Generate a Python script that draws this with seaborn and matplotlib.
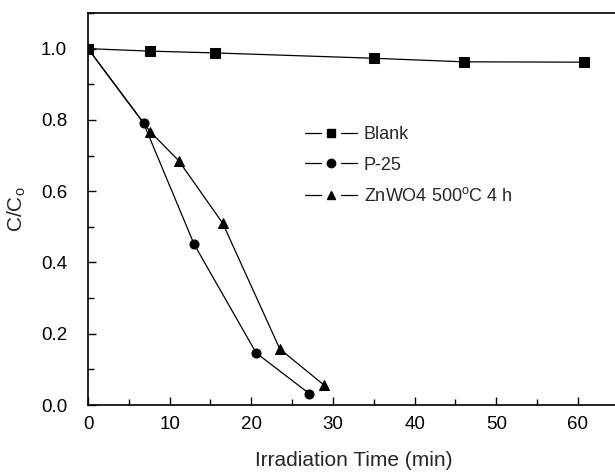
import matplotlib
matplotlib.use("Agg")
import matplotlib.pyplot as plt
import seaborn as sns
import pandas as pd
from matplotlib.ticker import MultipleLocator
from matplotlib.lines import Line2D
from matplotlib.legend_handler import HandlerBase

blank_t = [0, 7.6, 15.5, 35.0, 46.0, 60.7]
blank_c = [1.0, 0.993, 0.988, 0.973, 0.963, 0.962]
p25_t = [0, 6.8, 13.0, 20.6, 27.1]
p25_c = [1.0, 0.791, 0.451, 0.146, 0.032]
zn_t = [0, 7.65, 11.1, 16.5, 23.5, 28.9]
zn_c = [1.0, 0.766, 0.686, 0.51, 0.157, 0.056]
labels = ["Blank", "P-25", "ZnWO4 500$^{\\mathrm{o}}$C 4 h"]
markers = ["s", "o", "^"]

sns.set_style("ticks")
plt.rcParams['font.family'] = ['Liberation Sans', 'DejaVu Sans']
plt.rcParams['mathtext.fontset'] = 'custom'
plt.rcParams['mathtext.rm'] = 'Liberation Sans'

df = pd.concat([
    pd.DataFrame({"t": blank_t, "c": blank_c, "s": labels[0]}),
    pd.DataFrame({"t": p25_t, "c": p25_c, "s": labels[1]}),
    pd.DataFrame({"t": zn_t, "c": zn_c, "s": labels[2]}),
])

fig = plt.figure(figsize=(6.15, 4.75), dpi=100)
ax = fig.add_axes([88/615, 1-405/475, 1.006-88/615, (405-13)/475])
sns.lineplot(data=df, x="t", y="c", hue="s", style="s",
             palette=["black"]*3, markers=dict(zip(labels, markers)),
             dashes=False, markersize=6.5, linewidth=0.9, sort=False,
             markeredgecolor="black", ax=ax, legend=False)


class GapHandler(HandlerBase):
    def create_artists(self, legend, orig_handle, xdescent, ydescent,
                       width, height, fontsize, trans):
        y = height / 2 - ydescent
        g = 0.3 * width
        l1 = Line2D([-xdescent, -xdescent + width/2 - g/1.6], [y, y], color="black", lw=0.9)
        l2 = Line2D([-xdescent + width/2 + g/1.6, -xdescent + width], [y, y], color="black", lw=0.9)
        m = Line2D([-xdescent + width/2], [y], color="black", lw=0,
                   marker=orig_handle.get_marker(), markersize=6)
        for a in (l1, l2, m):
            a.set_transform(trans)
        return [l1, l2, m]


handles = [Line2D([], [], color="black", lw=0.9, marker=m, markersize=6) for m in markers]
ax.legend(handles, labels, frameon=False, loc="upper left",
          bbox_to_anchor=(0.395, 0.73), fontsize=13, handlelength=2.9,
          handletextpad=0.35, labelspacing=0.75, borderaxespad=0,
          handler_map={Line2D: GapHandler()})

ax.set_xlim(0, 65)
ax.set_ylim(0, 1.1)
ax.xaxis.set_major_locator(MultipleLocator(10))
ax.xaxis.set_minor_locator(MultipleLocator(5))
ax.yaxis.set_minor_locator(MultipleLocator(0.1))
ax.set_yticks([0, 0.2, 0.4, 0.6, 0.8, 1.0])
ax.set_yticklabels(["0.0", "0.2", "0.4", "0.6", "0.8", "1.0"])
ax.tick_params(which="both", direction="in", labelsize=13.5, colors="black")
ax.tick_params(axis="y", pad=15)
ax.tick_params(axis="x", pad=8)
ax.tick_params(which="major", length=6, width=1)
ax.tick_params(which="minor", length=4, width=1)
for sp in ax.spines.values():
    sp.set_linewidth(1.2)
    sp.set_color("black")
ax.set_xlabel("Irradiation Time (min)", fontsize=15, labelpad=13)
ax.set_ylabel("C/C$_\\mathrm{o}$", fontsize=15, labelpad=9)

fig.savefig("out.png", dpi=100)
